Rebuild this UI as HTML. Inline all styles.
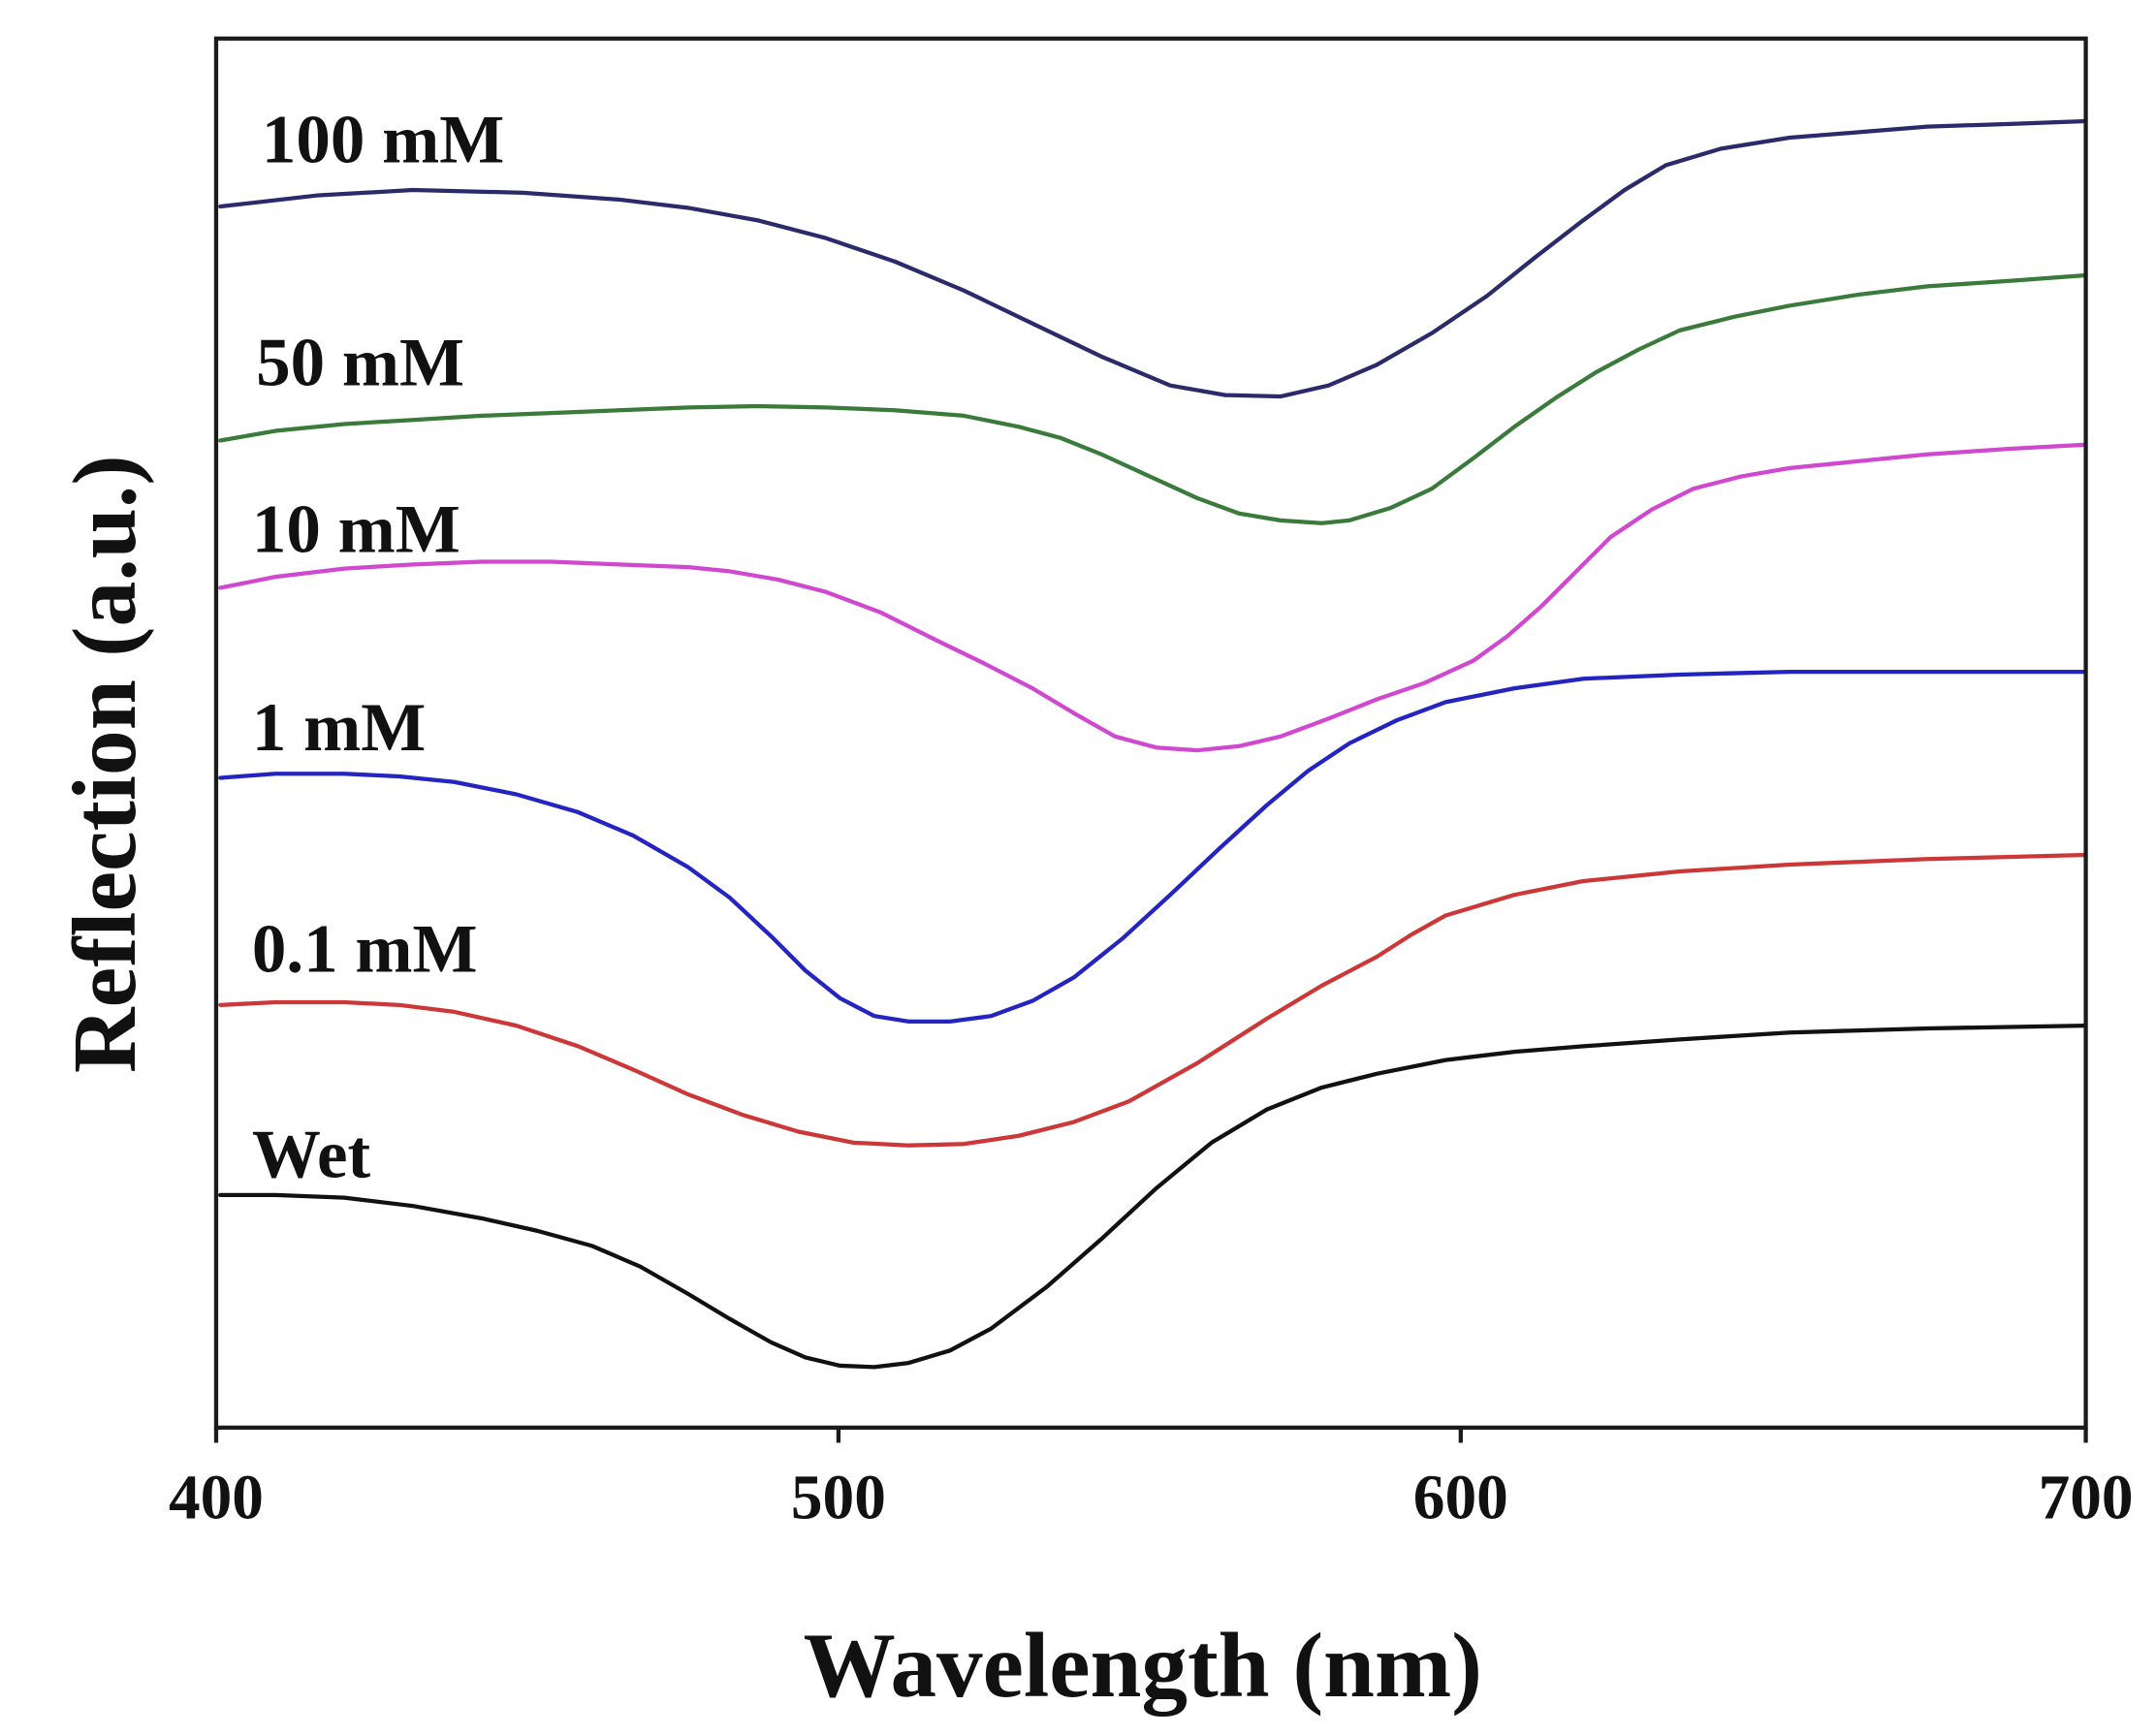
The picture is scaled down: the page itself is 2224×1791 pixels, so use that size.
<!DOCTYPE html>
<html><head><meta charset="utf-8"><style>
html,body{margin:0;padding:0;background:#fff;}
svg{display:block;}
text{font-family:"Liberation Serif",serif;font-weight:bold;fill:#111;}
</style></head><body>
<svg width="2224" height="1791" viewBox="0 0 1566 1261" preserveAspectRatio="none" xmlns="http://www.w3.org/2000/svg">
<rect x="0" y="0" width="1566" height="1261" fill="#fff"/>
<g fill="none" stroke-width="3" stroke-linejoin="round" stroke-linecap="round">
<polyline stroke="#2b2b6b" points="160,150 230,142 300,138 380,140 450,145 500,151 550,160 600,173 650,190 700,211 750,235 800,259 850,280 890,287 930,288 965,280 1000,265 1040,242 1080,215 1115,187 1150,160 1180,138 1210,120 1250,108 1300,100 1350,96 1400,92 1460,90 1515,88"/>
<polyline stroke="#3a7a3a" points="160,320 200,313 250,308 300,305 350,302 400,300 450,298 500,296 550,295 600,296 650,298 700,302 740,310 770,318 800,330 835,346 870,362 900,373 930,378 960,380 980,378 1010,369 1040,355 1070,333 1100,310 1130,289 1160,270 1190,254 1220,240 1260,230 1300,222 1350,214 1400,208 1460,204 1515,200"/>
<polyline stroke="#d048d0" points="160,427 200,419 250,413 300,410 350,408 400,408 450,410 500,412 530,415 565,421 600,430 640,445 680,465 715,482 750,500 780,518 810,535 840,543 870,545 900,542 930,535 965,522 1000,508 1035,496 1070,480 1095,462 1120,440 1145,415 1170,390 1200,370 1230,355 1265,346 1300,340 1350,335 1400,330 1460,326 1515,323"/>
<polyline stroke="#2424c0" points="160,565 200,562 250,562 290,564 330,568 375,577 420,590 460,607 500,630 530,652 560,680 585,705 610,725 635,738 660,742 690,742 720,738 750,727 780,710 815,682 850,650 885,617 920,585 950,560 980,540 1015,523 1050,510 1100,500 1150,493 1220,490 1300,488 1400,488 1515,488"/>
<polyline stroke="#cc3838" points="160,730 200,728 250,728 290,730 330,735 375,745 420,760 460,777 500,795 540,810 580,822 620,830 660,832 700,831 740,825 780,815 820,800 870,772 920,740 960,716 1000,695 1025,679 1050,665 1100,650 1150,640 1220,633 1300,628 1400,624 1515,621"/>
<polyline stroke="#111111" points="160,868 200,868 250,870 300,876 350,885 390,894 430,905 465,920 500,940 530,958 560,975 585,986 610,992 635,993 660,990 690,981 720,965 760,935 800,900 840,863 880,830 920,806 960,790 1000,780 1050,770 1100,764 1150,760 1220,755 1300,750 1400,747 1515,745"/>
</g>
<rect x="157" y="28" width="1358" height="1009" fill="none" stroke="#1a1a1a" stroke-width="3"/>
<g stroke="#1a1a1a" stroke-width="3">
<line x1="157" y1="1037" x2="157" y2="1048"/>
<line x1="609" y1="1037" x2="609" y2="1048"/>
<line x1="1061" y1="1037" x2="1061" y2="1048"/>
<line x1="1515" y1="1037" x2="1515" y2="1048"/>
</g>
<g font-size="46" text-anchor="middle">
<text x="157" y="1103">400</text>
<text x="609" y="1103">500</text>
<text x="1061" y="1103">600</text>
<text x="1515" y="1103">700</text>
</g>
<text x="830" y="1232" font-size="67" text-anchor="middle">Wavelength (nm)</text>
<text transform="translate(98,555) rotate(-90)" font-size="66" text-anchor="middle">Reflection (a.u.)</text>
<g font-size="50">
<text x="190" y="118">100 mM</text>
<text x="186" y="280">50 mM</text>
<text x="183" y="401">10 mM</text>
<text x="183" y="545">1 mM</text>
<text x="183" y="706">0.1 mM</text>
<text x="183" y="855">Wet</text>
</g>
</svg>
</body></html>
